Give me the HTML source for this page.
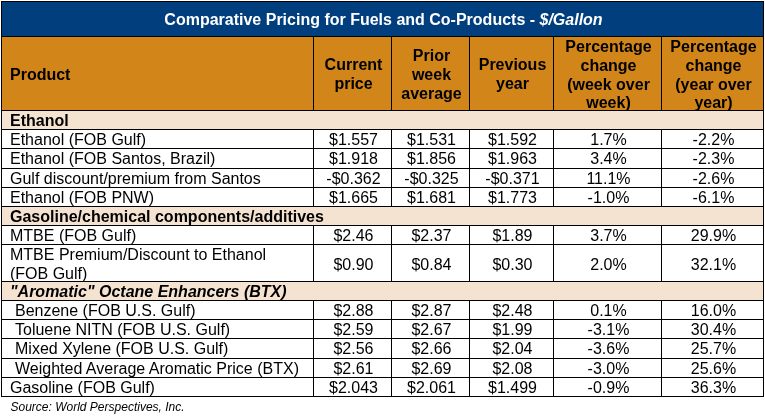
<!DOCTYPE html>
<html><head><meta charset="utf-8"><title>Comparative Pricing</title>
<style>
html,body{margin:0;padding:0;background:#fff;}
body{width:765px;height:416px;position:relative;overflow:hidden;font-family:"Liberation Sans",sans-serif;color:#000;}
.b{position:absolute;}
.ln{position:absolute;background:#000;}
.t{position:absolute;white-space:nowrap;line-height:1;font-size:16px;}
.c{text-align:center;}
.hd{font-weight:bold;line-height:18.7px;white-space:normal;}
.s{font-weight:bold;}
</style></head><body>

<div class="b" style="left:1px;top:1px;width:763px;height:36px;background:#003e7e"></div>
<div class="b" style="left:1px;top:37px;width:763px;height:74px;background:#d28619"></div>
<div class="b" style="left:1px;top:110px;width:763px;height:19px;background:#f5e3d1"></div>
<div class="b" style="left:1px;top:206px;width:763px;height:19px;background:#f5e3d1"></div>
<div class="b" style="left:1px;top:281px;width:763px;height:19px;background:#f5e3d1"></div>
<div class="ln" style="left:1px;top:1px;width:763px;height:1px;background:#000"></div>
<div class="ln" style="left:1px;top:36px;width:763px;height:1px;background:#000"></div>
<div class="ln" style="left:1px;top:110px;width:763px;height:1px;background:#000"></div>
<div class="ln" style="left:1px;top:129px;width:763px;height:1px;background:#000"></div>
<div class="ln" style="left:1px;top:148px;width:763px;height:1px;background:#000"></div>
<div class="ln" style="left:1px;top:168px;width:763px;height:1px;background:#000"></div>
<div class="ln" style="left:1px;top:187px;width:763px;height:1px;background:#000"></div>
<div class="ln" style="left:1px;top:206px;width:763px;height:1px;background:#000"></div>
<div class="ln" style="left:1px;top:225px;width:763px;height:1px;background:#000"></div>
<div class="ln" style="left:1px;top:244px;width:763px;height:1px;background:#000"></div>
<div class="ln" style="left:1px;top:281px;width:763px;height:1px;background:#000"></div>
<div class="ln" style="left:1px;top:300px;width:763px;height:1px;background:#000"></div>
<div class="ln" style="left:1px;top:319px;width:763px;height:1px;background:#000"></div>
<div class="ln" style="left:1px;top:338px;width:763px;height:1px;background:#000"></div>
<div class="ln" style="left:1px;top:358px;width:763px;height:1px;background:#000"></div>
<div class="ln" style="left:1px;top:377px;width:763px;height:1px;background:#000"></div>
<div class="ln" style="left:1px;top:396px;width:763px;height:1px;background:#000"></div>
<div class="ln" style="left:1px;top:1px;width:1px;height:396px;background:#000"></div>
<div class="ln" style="left:763px;top:1px;width:1px;height:396px;background:#000"></div>
<div class="ln" style="left:313px;top:36px;width:1px;height:75px;background:#000"></div>
<div class="ln" style="left:313px;top:129px;width:1px;height:78px;background:#000"></div>
<div class="ln" style="left:313px;top:225px;width:1px;height:57px;background:#000"></div>
<div class="ln" style="left:313px;top:300px;width:1px;height:97px;background:#000"></div>
<div class="ln" style="left:391px;top:36px;width:1px;height:75px;background:#000"></div>
<div class="ln" style="left:391px;top:129px;width:1px;height:78px;background:#000"></div>
<div class="ln" style="left:391px;top:225px;width:1px;height:57px;background:#000"></div>
<div class="ln" style="left:391px;top:300px;width:1px;height:97px;background:#000"></div>
<div class="ln" style="left:469px;top:36px;width:1px;height:75px;background:#000"></div>
<div class="ln" style="left:469px;top:129px;width:1px;height:78px;background:#000"></div>
<div class="ln" style="left:469px;top:225px;width:1px;height:57px;background:#000"></div>
<div class="ln" style="left:469px;top:300px;width:1px;height:97px;background:#000"></div>
<div class="ln" style="left:553px;top:36px;width:1px;height:75px;background:#000"></div>
<div class="ln" style="left:553px;top:129px;width:1px;height:78px;background:#000"></div>
<div class="ln" style="left:553px;top:225px;width:1px;height:57px;background:#000"></div>
<div class="ln" style="left:553px;top:300px;width:1px;height:97px;background:#000"></div>
<div class="ln" style="left:661px;top:36px;width:1px;height:75px;background:#000"></div>
<div class="ln" style="left:661px;top:129px;width:1px;height:78px;background:#000"></div>
<div class="ln" style="left:661px;top:225px;width:1px;height:57px;background:#000"></div>
<div class="ln" style="left:661px;top:300px;width:1px;height:97px;background:#000"></div>
<div class="t c" style="left:2px;top:12px;width:763px;font-weight:bold;color:#fff">Comparative Pricing for Fuels and Co-Products - <i>$/Gallon</i></div>
<div class="t s" style="left:10px;top:67px;">Product</div>
<div class="t hd c" style="left:315px;top:56.00px;width:77px;">Current<br>price</div>
<div class="t hd c" style="left:393px;top:47.45px;width:77px;">Prior<br>week<br>average</div>
<div class="t hd c" style="left:471px;top:56.00px;width:83px;">Previous<br>year</div>
<div class="t hd c" style="left:555px;top:38.10px;width:107px;">Percentage<br>change<br>(week over<br>week)</div>
<div class="t hd c" style="left:663px;top:38.10px;width:101px;">Percentage<br>change<br>(year over<br>year)</div>
<div class="t s" style="left:10px;top:113px;">Ethanol</div>
<div class="t s" style="left:10px;top:209px;">Gasoline/chemical components/additives</div>
<div class="t s" style="left:10px;top:284px;font-style:italic">"Aromatic" Octane Enhancers (BTX)</div>
<div class="t" style="left:10px;top:132.00px;">Ethanol (FOB Gulf)</div>
<div class="t c" style="left:315px;top:132.00px;width:77px;">$1.557</div>
<div class="t c" style="left:393px;top:132.00px;width:77px;">$1.531</div>
<div class="t c" style="left:471px;top:132.00px;width:83px;">$1.592</div>
<div class="t c" style="left:555px;top:132.00px;width:107px;">1.7%</div>
<div class="t c" style="left:663px;top:132.00px;width:101px;">-2.2%</div>
<div class="t" style="left:10px;top:151.00px;">Ethanol (FOB Santos, Brazil)</div>
<div class="t c" style="left:315px;top:151.00px;width:77px;">$1.918</div>
<div class="t c" style="left:393px;top:151.00px;width:77px;">$1.856</div>
<div class="t c" style="left:471px;top:151.00px;width:83px;">$1.963</div>
<div class="t c" style="left:555px;top:151.00px;width:107px;">3.4%</div>
<div class="t c" style="left:663px;top:151.00px;width:101px;">-2.3%</div>
<div class="t" style="left:10px;top:171.00px;">Gulf discount/premium from Santos</div>
<div class="t c" style="left:315px;top:171.00px;width:77px;">-$0.362</div>
<div class="t c" style="left:393px;top:171.00px;width:77px;">-$0.325</div>
<div class="t c" style="left:471px;top:171.00px;width:83px;">-$0.371</div>
<div class="t c" style="left:555px;top:171.00px;width:107px;">11.1%</div>
<div class="t c" style="left:663px;top:171.00px;width:101px;">-2.6%</div>
<div class="t" style="left:10px;top:190.00px;">Ethanol (FOB PNW)</div>
<div class="t c" style="left:315px;top:190.00px;width:77px;">$1.665</div>
<div class="t c" style="left:393px;top:190.00px;width:77px;">$1.681</div>
<div class="t c" style="left:471px;top:190.00px;width:83px;">$1.773</div>
<div class="t c" style="left:555px;top:190.00px;width:107px;">-1.0%</div>
<div class="t c" style="left:663px;top:190.00px;width:101px;">-6.1%</div>
<div class="t" style="left:10px;top:228.00px;">MTBE (FOB Gulf)</div>
<div class="t c" style="left:315px;top:228.00px;width:77px;">$2.46</div>
<div class="t c" style="left:393px;top:228.00px;width:77px;">$2.37</div>
<div class="t c" style="left:471px;top:228.00px;width:83px;">$1.89</div>
<div class="t c" style="left:555px;top:228.00px;width:107px;">3.7%</div>
<div class="t c" style="left:663px;top:228.00px;width:101px;">29.9%</div>
<div class="t" style="left:10px;top:246px;line-height:18.5px;">MTBE Premium/Discount to Ethanol<br>(FOB Gulf)</div>
<div class="t c" style="left:315px;top:257.00px;width:77px;">$0.90</div>
<div class="t c" style="left:393px;top:257.00px;width:77px;">$0.84</div>
<div class="t c" style="left:471px;top:257.00px;width:83px;">$0.30</div>
<div class="t c" style="left:555px;top:257.00px;width:107px;">2.0%</div>
<div class="t c" style="left:663px;top:257.00px;width:101px;">32.1%</div>
<div class="t" style="left:15px;top:303.00px;">Benzene (FOB U.S. Gulf)</div>
<div class="t c" style="left:315px;top:303.00px;width:77px;">$2.88</div>
<div class="t c" style="left:393px;top:303.00px;width:77px;">$2.87</div>
<div class="t c" style="left:471px;top:303.00px;width:83px;">$2.48</div>
<div class="t c" style="left:555px;top:303.00px;width:107px;">0.1%</div>
<div class="t c" style="left:663px;top:303.00px;width:101px;">16.0%</div>
<div class="t" style="left:15px;top:322.00px;">Toluene NITN (FOB U.S. Gulf)</div>
<div class="t c" style="left:315px;top:322.00px;width:77px;">$2.59</div>
<div class="t c" style="left:393px;top:322.00px;width:77px;">$2.67</div>
<div class="t c" style="left:471px;top:322.00px;width:83px;">$1.99</div>
<div class="t c" style="left:555px;top:322.00px;width:107px;">-3.1%</div>
<div class="t c" style="left:663px;top:322.00px;width:101px;">30.4%</div>
<div class="t" style="left:15px;top:341.00px;">Mixed Xylene (FOB U.S. Gulf)</div>
<div class="t c" style="left:315px;top:341.00px;width:77px;">$2.56</div>
<div class="t c" style="left:393px;top:341.00px;width:77px;">$2.66</div>
<div class="t c" style="left:471px;top:341.00px;width:83px;">$2.04</div>
<div class="t c" style="left:555px;top:341.00px;width:107px;">-3.6%</div>
<div class="t c" style="left:663px;top:341.00px;width:101px;">25.7%</div>
<div class="t" style="left:15px;top:361.00px;">Weighted Average Aromatic Price (BTX)</div>
<div class="t c" style="left:315px;top:361.00px;width:77px;">$2.61</div>
<div class="t c" style="left:393px;top:361.00px;width:77px;">$2.69</div>
<div class="t c" style="left:471px;top:361.00px;width:83px;">$2.08</div>
<div class="t c" style="left:555px;top:361.00px;width:107px;">-3.0%</div>
<div class="t c" style="left:663px;top:361.00px;width:101px;">25.6%</div>
<div class="t" style="left:10px;top:380.00px;">Gasoline (FOB Gulf)</div>
<div class="t c" style="left:315px;top:380.00px;width:77px;">$2.043</div>
<div class="t c" style="left:393px;top:380.00px;width:77px;">$2.061</div>
<div class="t c" style="left:471px;top:380.00px;width:83px;">$1.499</div>
<div class="t c" style="left:555px;top:380.00px;width:107px;">-0.9%</div>
<div class="t c" style="left:663px;top:380.00px;width:101px;">36.3%</div>
<div class="t" style="left:10.5px;top:401px;font-size:12px;font-style:italic">Source: World Perspectives, Inc.</div>
</body></html>
